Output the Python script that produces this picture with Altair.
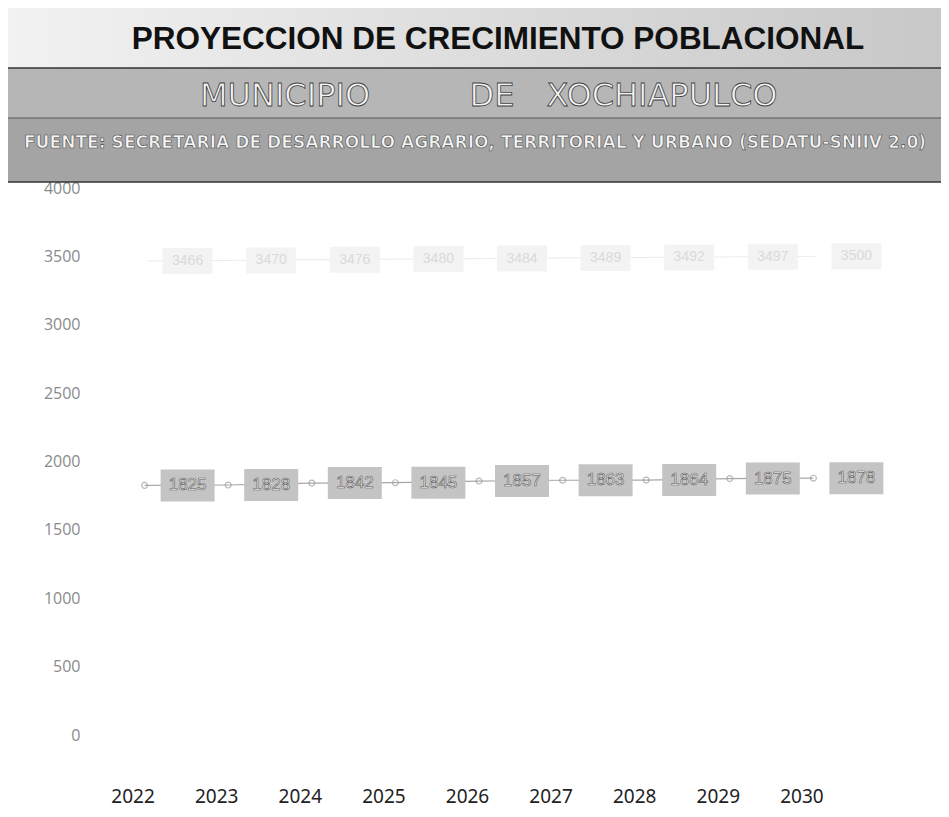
import altair as alt
import pandas as pd

# ---------------- data ----------------
years = [2022, 2023, 2024, 2025, 2026, 2027, 2028, 2029, 2030]
population = [1825, 1828, 1842, 1845, 1857, 1863, 1864, 1875, 1878]
upper_series = [3466, 3470, 3476, 3480, 3484, 3489, 3492, 3497, 3500]
y_ticks = [0, 500, 1000, 1500, 2000, 2500, 3000, 3500, 4000]

title_text = "PROYECCION DE CRECIMIENTO POBLACIONAL"
subtitle_words = ["MUNICIPIO", "DE", "XOCHIAPULCO"]
source_text = "FUENTE: SECRETARIA DE DESARROLLO AGRARIO, TERRITORIAL Y URBANO (SEDATU-SNIIV 2.0)"

df = pd.DataFrame({"year": years, "pop": population, "upper": upper_series})

# ---------------- layout ----------------
W, H = 836, 547
PL, PT, PR, PB = 41, 180, 56, 74

x_enc = alt.X(
    "year:Q",
    scale=alt.Scale(domain=[2021, 2031], nice=False, zero=False),
    axis=alt.Axis(values=years, format="d", title=None, grid=False, domain=False,
                  ticks=False, labelPadding=52, labelFontSize=19, labelColor="#222222",
                  labelFont="Noto Sans"),
)
y_enc = alt.Y(
    "pop:Q",
    scale=alt.Scale(domain=[0, 4000], nice=False),
    axis=alt.Axis(values=y_ticks, format="d", title=None, grid=False, domain=False,
                  ticks=False, offset=-31, labelPadding=0, labelFontSize=16,
                  labelColor="#8a8a8a", labelFont="Open Sans"),
)

base = alt.Chart(df)

# upper faint series
upper_line = base.mark_line(color="#ececec", strokeWidth=1, xOffset=15).encode(
    x=x_enc, y=alt.Y("upper:Q"))
upper_box = base.mark_rect(width=50, height=26, xOffset=55, fill="#f3f3f3").encode(
    x="year:Q", y="upper:Q")
upper_txt = base.mark_text(xOffset=55, fontSize=14, color="#dadada", font="Liberation Sans").encode(
    x="year:Q", y="upper:Q", text="upper:Q")

# main series
line = base.mark_line(color="#a8a8a8", strokeWidth=1.2, xOffset=12).encode(x=x_enc, y=y_enc)
pts = base.mark_point(shape="circle", filled=False, size=35, color="#9a9a9a",
                      strokeWidth=1.2, xOffset=12).encode(x="year:Q", y="pop:Q")
box = base.mark_rect(width=54, height=32, xOffset=55, fill="#c4c4c4").encode(
    x="year:Q", y="pop:Q")
lbl = base.mark_text(xOffset=55, fontSize=17, color="#f6f6f6", stroke="#5a5a5a",
                     strokeWidth=0.6, font="Liberation Sans").encode(
    x="year:Q", y="pop:Q", text="pop:Q")

# header bands
one = pd.DataFrame({"k": [0]})
hx1, hx2 = -PL, W + PR
band1 = alt.Chart(one).mark_rect(
    fill=alt.Gradient(gradient="linear",
                      stops=[alt.GradientStop(color="#f2f2f2", offset=0),
                             alt.GradientStop(color="#c8c8c8", offset=1)],
                      x1=0, x2=1, y1=0, y2=0)
).encode(x=alt.value(hx1), x2=alt.value(hx2), y=alt.value(-PT), y2=alt.value(-120))
band2 = alt.Chart(one).mark_rect(fill="#b6b6b6").encode(
    x=alt.value(hx1), x2=alt.value(hx2), y=alt.value(-120), y2=alt.value(-70))
band3 = alt.Chart(one).mark_rect(fill="#a4a4a4").encode(
    x=alt.value(hx1), x2=alt.value(hx2), y=alt.value(-70), y2=alt.value(-6))

rule1 = alt.Chart(one).mark_rule(color="#333333", strokeWidth=1.5).encode(
    x=alt.value(hx1), x2=alt.value(hx2), y=alt.value(-120))
rule2 = alt.Chart(one).mark_rule(color="#555555", strokeWidth=1).encode(
    x=alt.value(hx1), x2=alt.value(hx2), y=alt.value(-70))
rule3 = alt.Chart(one).mark_rule(color="#333333", strokeWidth=1.5).encode(
    x=alt.value(hx1), x2=alt.value(hx2), y=alt.value(-6))

title_df = pd.DataFrame({"t": [title_text]})
src_df = pd.DataFrame({"t": [source_text]})

title = alt.Chart(title_df).mark_text(
    fontSize=31.5, fontWeight="bold", font="Liberation Sans", color="#111111",
    align="center", baseline="middle").encode(
    x=alt.value(449), y=alt.value(-148), text="t:N")

sub_style = dict(fontSize=32, font="DejaVu Sans", color="#f4f4f4", stroke="#404040",
                 strokeWidth=0.8, align="center", baseline="middle")
sub_x = [236, 443, 613]
sub_layers = [
    alt.Chart(pd.DataFrame({"t": [w]})).mark_text(**sub_style).encode(
        x=alt.value(sx), y=alt.value(-92), text="t:N")
    for w, sx in zip(subtitle_words, sub_x)
]

src = alt.Chart(src_df).mark_text(
    fontSize=17.1, fontWeight="bold", font="DejaVu Sans", color="#f4f4f4", stroke="#4a4a4a",
    strokeWidth=0.6, align="center", baseline="middle").encode(
    x=alt.value(426), y=alt.value(-45), text="t:N")

chart = alt.layer(
    band1, band2, band3, rule1, rule2, rule3, title, *sub_layers, src,
    line, upper_line, upper_box, upper_txt, pts, box, lbl,
).properties(
    width=W, height=H,
    padding={"left": PL, "top": PT, "right": PR, "bottom": PB},
    autosize=alt.AutoSizeParams(type="none"),
    background="white",
).configure_view(stroke=None)

chart.save("out.html", embed_options={"renderer": "svg", "actions": False})
